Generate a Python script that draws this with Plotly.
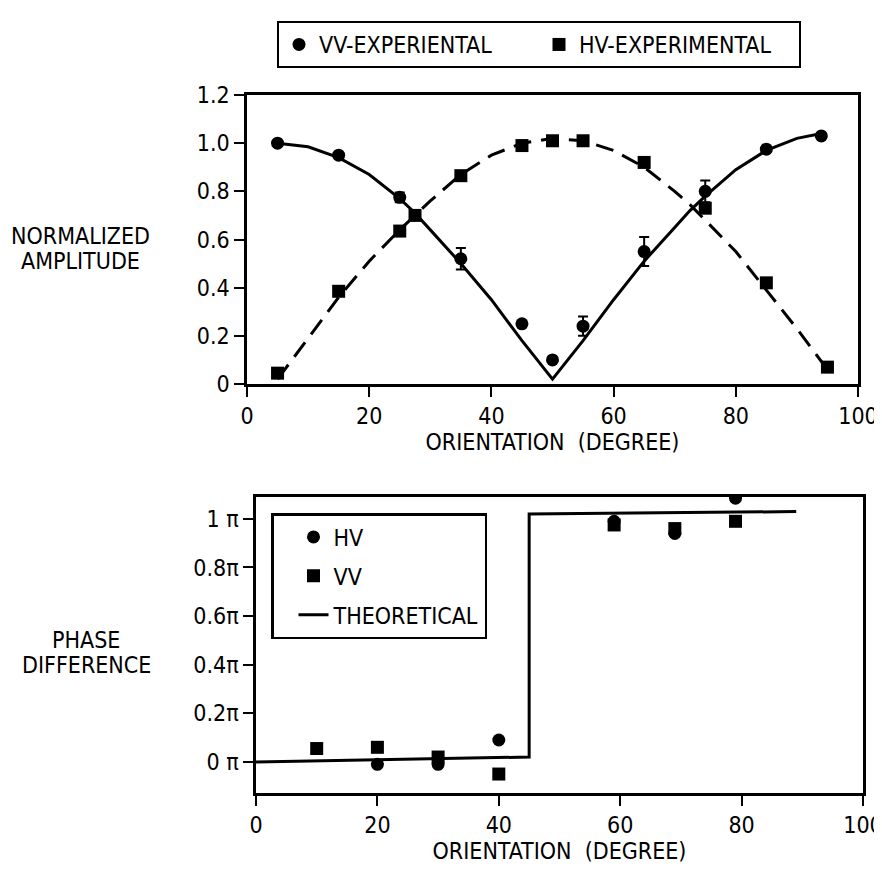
import plotly.graph_objects as go

# ---------------- data: top panel (normalized amplitude) ----------------
vv_x = [5, 15, 25, 35, 45, 50, 55, 65, 75, 85, 94]
vv_y = [1.0, 0.95, 0.775, 0.52, 0.25, 0.10, 0.24, 0.55, 0.80, 0.975, 1.03]
vv_err = [0, 0, 0.02, 0.045, 0, 0, 0.04, 0.06, 0.045, 0, 0]

hv_x = [5, 15, 25, 27.5, 35, 45, 50, 55, 65, 75, 85, 95]
hv_y = [0.045, 0.385, 0.635, 0.70, 0.865, 0.99, 1.01, 1.01, 0.92, 0.73, 0.42, 0.07]

vv_theory_x = [5, 10, 15, 20, 25, 27.5, 30, 35, 40, 45, 50, 55, 60, 65, 70, 72.5, 75, 80, 85, 90, 94]
vv_theory_y = [1.0, 0.985, 0.94, 0.87, 0.77, 0.71, 0.64, 0.50, 0.35, 0.18, 0.02,
               0.18, 0.35, 0.51, 0.65, 0.72, 0.78, 0.89, 0.97, 1.02, 1.04]

hv_theory_x = [5, 10, 15, 20, 25, 27.5, 30, 35, 40, 45, 50, 55, 60, 65, 70, 72.5, 75, 80, 85, 90, 95]
hv_theory_y = [0.02, 0.19, 0.36, 0.51, 0.64, 0.70, 0.76, 0.87, 0.95, 1.0, 1.02,
               1.01, 0.97, 0.90, 0.80, 0.745, 0.68, 0.55, 0.39, 0.23, 0.06]

amp_ticks = [0, 0.2, 0.4, 0.6, 0.8, 1.0, 1.2]
amp_labels = ["0", "0.2", "0.4", "0.6", "0.8", "1.0", "1.2"]
deg_ticks = [0, 20, 40, 60, 80, 100]
deg_labels = ["0", "20", "40", "60", "80", "100"]

# ---------------- data: bottom panel (phase difference, units of pi) ----------------
hv_phase_x = [20, 30, 40, 59, 69, 79]
hv_phase_y = [-0.01, -0.01, 0.09, 0.99, 0.94, 1.085]

vv_phase_x = [10, 20, 30, 40, 59, 69, 79]
vv_phase_y = [0.055, 0.06, 0.02, -0.05, 0.975, 0.96, 0.99]

theory_phase_x = [0, 45, 45, 89]
theory_phase_y = [0.0, 0.02, 1.02, 1.03]

phase_ticks = [0, 0.2, 0.4, 0.6, 0.8, 1.0]
phase_labels = ["0 π", "0.2π", "0.4π", "0.6π", "0.8π", "1 π"]

FONT = "Liberation Sans Narrow, DejaVu Sans Condensed, Arial Narrow, sans-serif"
FS = 23
OFF = 8            # page body margin of the html page
W, H = 882 - OFF, 880 - OFF

def px_x(p):
    return (p - OFF) / W

def px_y(p):
    return 1 - (p - OFF) / H

fig = go.Figure()

# top panel
fig.add_trace(go.Scatter(x=vv_theory_x, y=vv_theory_y, mode="lines",
                         line=dict(color="black", width=3),
                         showlegend=False, xaxis="x", yaxis="y"))
fig.add_trace(go.Scatter(x=hv_theory_x, y=hv_theory_y, mode="lines",
                         line=dict(color="black", width=3, dash="18px,10px"),
                         showlegend=False, xaxis="x", yaxis="y"))
fig.add_trace(go.Scatter(x=vv_x, y=vv_y, mode="markers", name="VV-EXPERIENTAL",
                         marker=dict(symbol="circle", size=13, color="black"),
                         error_y=dict(type="data", array=vv_err, color="black", thickness=2, width=5),
                         legend="legend", xaxis="x", yaxis="y"))
fig.add_trace(go.Scatter(x=hv_x, y=hv_y, mode="markers", name="HV-EXPERIMENTAL",
                         marker=dict(symbol="square", size=13, color="black"),
                         legend="legend", xaxis="x", yaxis="y"))

# bottom panel
fig.add_trace(go.Scatter(x=hv_phase_x, y=hv_phase_y, mode="markers", name="HV",
                         marker=dict(symbol="circle", size=13, color="black"),
                         legend="legend2", legendgroup="a", xaxis="x2", yaxis="y2"))
fig.add_trace(go.Scatter(x=vv_phase_x, y=vv_phase_y, mode="markers", name="VV",
                         marker=dict(symbol="square", size=13, color="black"),
                         legend="legend2", legendgroup="b", xaxis="x2", yaxis="y2"))
fig.add_trace(go.Scatter(x=theory_phase_x, y=theory_phase_y, mode="lines", name="THEORETICAL",
                         line=dict(color="black", width=3),
                         legend="legend2", legendgroup="c", xaxis="x2", yaxis="y2"))

axis_common = dict(showgrid=False, zeroline=False, showline=True, linecolor="black",
                   linewidth=2.5, mirror=True, ticks="outside", tickcolor="black",
                   tickwidth=2, ticklen=10, tickfont=dict(family=FONT, size=FS, color="black"))

fig.update_layout(
    width=W, height=H,
    margin=dict(l=0, r=0, t=0, b=0, autoexpand=False),
    paper_bgcolor="white", plot_bgcolor="white",
    font=dict(family=FONT, size=FS, color="black"),
    xaxis=dict(domain=[px_x(247), px_x(858)], range=[0, 100], tickvals=deg_ticks, ticktext=deg_labels,
               anchor="y", ticklabeloverflow="allow",
               title=dict(text="ORIENTATION  (DEGREE)", font=dict(family=FONT, size=FS), standoff=2),
               **axis_common),
    yaxis=dict(domain=[px_y(384), px_y(95)], range=[0, 1.2], tickvals=amp_ticks, ticktext=amp_labels,
               anchor="x", **axis_common),
    xaxis2=dict(domain=[px_x(256), px_x(863)], range=[0, 100], tickvals=deg_ticks, ticktext=deg_labels,
                anchor="y2", ticklabeloverflow="allow",
                title=dict(text="ORIENTATION  (DEGREE)", font=dict(family=FONT, size=FS), standoff=0),
                **axis_common),
    yaxis2=dict(domain=[px_y(793), px_y(497)], range=[-0.128, 1.09], tickvals=phase_ticks,
                ticktext=phase_labels, anchor="x2", **axis_common),
    legend=dict(orientation="h", x=px_x(277), y=px_y(21), xanchor="left", yanchor="top",
                bordercolor="black", borderwidth=2, bgcolor="white",
                font=dict(family=FONT, size=FS), entrywidth=215, entrywidthmode="pixels"),
    legend2=dict(orientation="v", x=px_x(271), y=px_y(513), xanchor="left", yanchor="top",
                 bordercolor="black", borderwidth=2.5, bgcolor="white", tracegroupgap=6,
                 indentation=20,
                 font=dict(family=FONT, size=FS)),
    annotations=[
        dict(text="NORMALIZED", x=px_x(80), y=px_y(236), xref="paper", yref="paper",
             xanchor="center", yanchor="middle", showarrow=False, font=dict(family=FONT, size=FS)),
        dict(text="AMPLITUDE", x=px_x(80), y=px_y(261), xref="paper", yref="paper",
             xanchor="center", yanchor="middle", showarrow=False, font=dict(family=FONT, size=FS)),
        dict(text="PHASE", x=px_x(86), y=px_y(640), xref="paper", yref="paper",
             xanchor="center", yanchor="middle", showarrow=False, font=dict(family=FONT, size=FS)),
        dict(text="DIFFERENCE", x=px_x(86), y=px_y(665), xref="paper", yref="paper",
             xanchor="center", yanchor="middle", showarrow=False, font=dict(family=FONT, size=FS)),
    ],
)

fig.write_html("out.html")
